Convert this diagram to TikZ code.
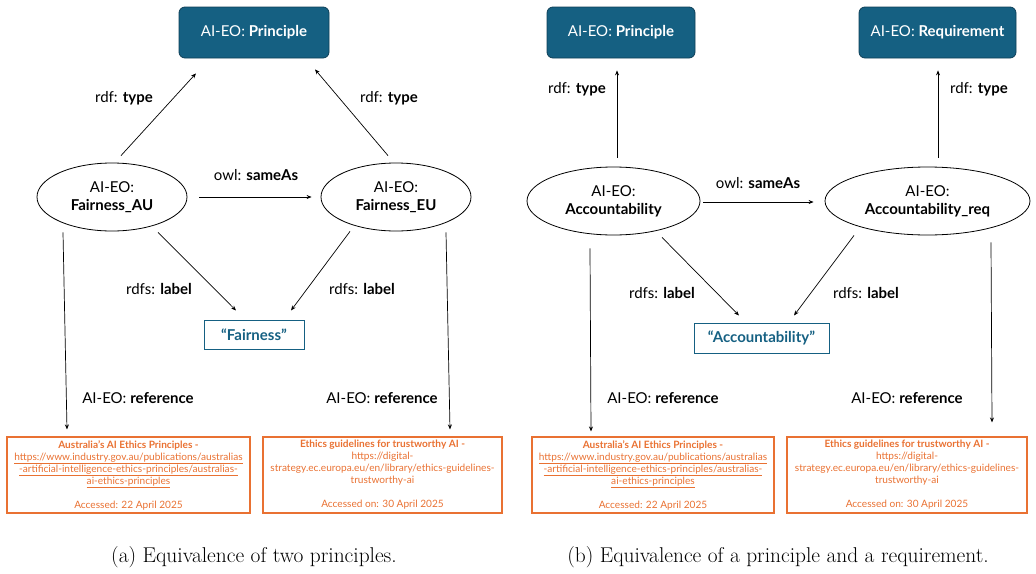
\documentclass[tikz,border=0pt]{standalone}
\usepackage{fontspec}
\setsansfont{Lato}
\usetikzlibrary{arrows.meta,shapes.geometric,calc}
\definecolor{acc}{HTML}{156082}
\definecolor{accdark}{HTML}{0E3F57}
\definecolor{org}{HTML}{E97132}
\begin{document}
\begin{tikzpicture}[x=1pt,y=-1pt,
  every node/.style={font=\sffamily\fontsize{15}{18}\selectfont},
  classbox/.style={draw=accdark, fill=acc, rounded corners=6pt, text=white,
    minimum height=51pt, inner sep=0pt, line width=0.8pt},
  inst/.style={draw, ellipse, line width=0.8pt, align=center, inner sep=0pt,
    minimum height=68pt, font=\sffamily\fontsize{15}{18}\selectfont},
  litbox/.style={draw=acc, text=acc, line width=1pt, inner sep=0pt,
    font=\sffamily\bfseries\fontsize{15}{18}\selectfont},
  refbox/.style={draw=org, line width=1.1pt, text=org, align=center, inner sep=0pt,
    minimum height=76pt, font=\sffamily\fontsize{10.1}{12}\selectfont},
  edge/.style={-{Stealth[length=5pt,width=4pt]}, line width=0.7pt},
  lbl/.style={inner sep=0pt, text height=11pt, text depth=0pt},
  captext/.style={font=\rmfamily\fontsize{21.4}{25}\selectfont}
]
\useasboundingbox (0,0) rectangle (1036,573);

% ---------------- panel (a) ----------------
\node[classbox, minimum width=150pt] (pl) at (254,32.5) {AI-EO: \textbf{Principle}};
\node[inst, minimum width=150pt] (fau) at (112,197) {AI-EO:\\\textbf{Fairness\_AU}};
\node[inst, minimum width=150pt] (feu) at (396,197) {AI-EO:\\\textbf{Fairness\_EU}};
\node[litbox, minimum width=100pt, minimum height=29pt] (fb) at (254,334.5) {“Fairness”};
\node[refbox, minimum width=243pt] (rb1) at (128.5,475) {\textbf{Australia's AI Ethics Principles -}\\
  \underline{https://www.industry.gov.au/publications/australias}\\
  \underline{-artificial-intelligence-ethics-principles/australias-}\\
  \underline{ai-ethics-principles}\\[12pt]
  Accessed: 22 April 2025};
\node[refbox, minimum width=239pt] (rb2) at (382.5,475) {\textbf{Ethics guidelines for trustworthy AI -}\\
  https://digital-\\
  strategy.ec.europa.eu/en/library/ethics-guidelines-\\
  trustworthy-ai\\[12pt]
  Accessed on: 30 April 2025};

\draw[edge] ($(fau.north)+(9,-7)$) -- ($(pl.south)+(-58,15)$);
\draw[edge] ($(feu.north)+(-8,-7)$) -- ($(pl.south)+(61,11)$);
\draw[edge] ($(fau.east)+(12,0)$) -- ($(feu.west)+(-9,0)$);
\draw[edge] ($(fau.south)+(46,1)$) -- ($(fb.north)+(-18,-9)$);
\draw[edge] ($(feu.south)+(-46,0)$) -- ($(fb.north)+(37,-9)$);
\draw[edge] ($(fau.south)+(-49,1)$) -- ($(rb1.north)+(-61.5,-7)$);
\draw[edge] ($(feu.south)+(50,1)$) -- ($(rb2.north)+(67.5,-7)$);

\node[lbl] (la1) at (124,97) {rdf: \textbf{type}};
\node[lbl] (la2) at (389,97) {rdf: \textbf{type}};
\node[lbl] (la3) at (256,175) {owl: \textbf{sameAs}};
\node[lbl] (la4) at (159,289) {rdfs: \textbf{label}};
\node[lbl] (la5) at (362,289) {rdfs: \textbf{label}};
\node[lbl] (la6) at (138,398) {AI-EO: \textbf{reference}};
\node[lbl] (la7) at (382,398) {AI-EO: \textbf{reference}};

\node[captext] (capa) at (254,557) {(a) Equivalence of two principles.};

% ---------------- panel (b) ----------------
\node[classbox, minimum width=148pt] (pr) at (621,32.5) {AI-EO: \textbf{Principle}};
\node[classbox, minimum width=157pt] (rq) at (937.5,32.5) {AI-EO: \textbf{Requirement}};
\node[inst, minimum width=173pt] (ac) at (613.5,201) {AI-EO:\\\textbf{Accountability}};
\node[inst, minimum width=205pt] (acr) at (927.5,201) {AI-EO:\\\textbf{Accountability\_req}};
\node[litbox, minimum width=135pt, minimum height=30pt] (ab) at (761.5,338) {“Accountability”};
\node[refbox, minimum width=242pt] (rb3) at (653,475) {\textbf{Australia's AI Ethics Principles -}\\
  \underline{https://www.industry.gov.au/publications/australias}\\
  \underline{-artificial-intelligence-ethics-principles/australias-}\\
  \underline{ai-ethics-principles}\\[12pt]
  Accessed: 22 April 2025};
\node[refbox, minimum width=240pt] (rb4) at (907,475) {\textbf{Ethics guidelines for trustworthy AI -}\\
  https://digital-\\
  strategy.ec.europa.eu/en/library/ethics-guidelines-\\
  trustworthy-ai\\[12pt]
  Accessed on: 30 April 2025};

\draw[edge] ($(ac.north)+(3.5,-9)$) -- ($(pr.south)+(-4,12)$);
\draw[edge] ($(acr.north)+(10.5,-9)$) -- ($(rq.south)+(0.5,12)$);
\draw[edge] ($(ac.east)+(3,1)$) -- ($(acr.west)+(-11,1)$);
\draw[edge] ($(ac.south)+(48.5,2)$) -- ($(ab.north)+(-22.5,-7)$);
\draw[edge] ($(acr.south)+(-73.5,0)$) -- ($(ab.north)+(32.5,-7)$);
\draw[edge] ($(ac.south)+(-23.5,13)$) -- ($(rb3.north)+(-62,-5)$);
\draw[edge] ($(acr.south)+(63.5,7)$) -- ($(rb4.north)+(85,-14)$);

\node[lbl] (lb1) at (577,88) {rdf: \textbf{type}};
\node[lbl] (lb2) at (979,88) {rdf: \textbf{type}};
\node[lbl] (lb3) at (758,183) {owl: \textbf{sameAs}};
\node[lbl] (lb4) at (662,293) {rdfs: \textbf{label}};
\node[lbl] (lb5) at (866,293) {rdfs: \textbf{label}};
\node[lbl] (lb6) at (663,398) {AI-EO: \textbf{reference}};
\node[lbl] (lb7) at (907,398) {AI-EO: \textbf{reference}};

\node[captext] (capb) at (778,557) {(b) Equivalence of a principle and a requirement.};
\end{tikzpicture}
\end{document}
